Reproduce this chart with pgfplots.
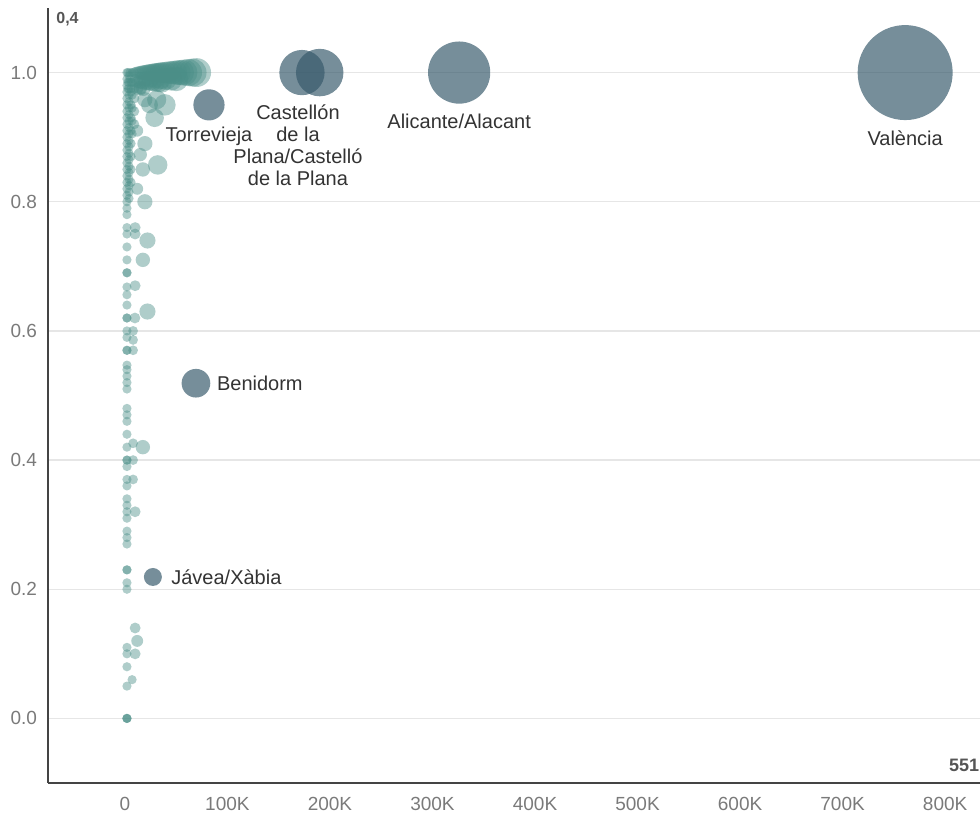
\documentclass[border=0pt]{standalone}
\usepackage{pgfplots}
\pgfplotsset{compat=1.18}
\usepackage{pgfplotstable}
\usepackage{fontspec}
\setmainfont{Liberation Sans}
\definecolor{tealc}{HTML}{4A8E87}
\definecolor{slatec}{HTML}{35586A}
\definecolor{tickc}{HTML}{7A7A7A}
\definecolor{gridc}{HTML}{E6E6E6}
\definecolor{axc}{HTML}{444444}
\definecolor{labc}{HTML}{333333}
\definecolor{annc}{HTML}{555555}

\pgfplotstableread{
x y
3 1.0
5 1.0
7 1.0
9 1.0
11 1.0
13 1.0
15 1.0
17 1.0
19 1.0
21 1.0
23 1.0
25 1.0
27 1.0
29 1.0
31 1.0
33 1.0
35 1.0
37 1.0
40 1.0
43 1.0
46 1.0
49 1.0
52 1.0
55 1.0
58 1.0
62 1.0
66 1.0
70 1.0
5 0.99
10 0.99
15 0.99
20 0.99
25 0.99
30 0.99
35 0.99
40 0.99
45 0.99
50 0.99
3 0.985
6 0.985
9 0.985
12 0.985
15 0.985
18 0.985
21 0.985
24 0.985
27 0.985
30 0.985
33 0.985
36 0.985
3 0.975
6 0.975
9 0.975
12 0.975
15 0.975
18 0.975
2 1.00
2 0.99
2 0.98
2 0.97
2 0.96
2 0.95
2 0.94
2 0.93
2 0.92
2 0.91
2 0.90
2 0.89
2 0.88
2 0.87
2 0.86
2 0.85
2 0.84
2 0.83
2 0.82
2 0.81
2 0.80
4 0.995
4 0.985
4 0.975
4 0.965
4 0.955
4 0.945
4 0.935
4 0.925
4 0.915
4 0.905
4 0.895
4 0.885
4 0.875
4 0.865
4 0.855
4 0.845
4 0.835
4 0.825
4 0.815
4 0.805
6 0.97
6 0.95
6 0.93
6 0.91
6 0.89
6 0.87
6 0.85
6 0.83
7 0.985
7 0.965
7 0.945
7 0.925
7 0.905
9 0.96
9 0.94
9 0.92
15 0.977
19.5 0.958
31 0.958
39 0.95
24 0.95
29 0.93
12 0.91
19.5 0.89
15 0.873
32 0.857
17.5 0.85
12 0.82
19.5 0.80
10 0.76
10 0.75
22 0.74
17.5 0.71
10 0.67
22 0.63
9.8 0.62
8 0.60
8 0.586
8 0.57
8 0.426
17.5 0.42
8 0.40
8 0.37
10 0.32
10 0.14
12 0.12
10 0.10
7 0.06
2 0.79
2 0.78
2 0.76
2 0.75
2 0.73
2 0.71
2 0.69
2 0.69
2 0.668
2 0.656
2 0.64
2 0.62
2 0.62
2 0.60
2 0.59
2 0.57
2 0.57
2 0.547
2 0.54
2 0.53
2 0.52
2 0.51
2 0.48
2 0.47
2 0.46
2 0.44
2 0.42
2 0.40
2 0.40
2 0.39
2 0.37
2 0.36
2 0.34
2 0.33
2 0.32
2 0.31
2 0.29
2 0.28
2 0.27
2 0.23
2 0.23
2 0.21
2 0.20
2 0.11
2 0.10
2 0.08
2 0.05
2 0.0
2 0.0
2 0.0
}\tealdata

\pgfplotstableread{
x y
761 1.0
326 1.0
172.7 1.0
190 1.0
82 0.95
69.3 0.519
27.3 0.219
}\slatedata

\begin{document}
\begin{tikzpicture}
\useasboundingbox (0,0) rectangle (490pt,409pt);
\begin{axis}[at={(24pt,17.5pt)}, anchor=south west, scale only axis,
  width=466pt, height=387.5pt,
  xmin=-75, xmax=834, ymin=-0.1, ymax=1.1,
  axis lines=left, axis line style={-, draw=axc, line width=0.8pt},
  ymajorgrids, grid style={draw=gridc, line width=0.6pt},
  major tick length=0pt,
  xtick={0,100,200,300,400,500,600,700,800},
  xticklabels={0,100K,200K,300K,400K,500K,600K,700K,800K},
  ytick={0,0.2,0.4,0.6,0.8,1.0},
  yticklabels={0.0,0.2,0.4,0.6,0.8,1.0},
  tick label style={font=\fontsize{9.5}{11}\selectfont, text=tickc},
  xticklabel style={yshift=-3.4pt}, yticklabel style={xshift=-2pt},
  clip=false]
\addplot[scatter, only marks, mark=*,
  visualization depends on={max(2.3,23.75*sqrt(\thisrow{x}/761)) \as \msz},
  scatter/@pre marker code/.code={\scope[mark size=\msz pt, fill=tealc, draw=tealc, fill opacity=0.44, draw opacity=0, line width=0pt]},
  scatter/@post marker code/.code={\endscope}]
  table[x=x, y=y] {\tealdata};
\addplot[scatter, only marks, mark=*,
  visualization depends on={max(2.3,23.75*sqrt(\thisrow{x}/761)) \as \msz},
  scatter/@pre marker code/.code={\scope[mark size=\msz pt, fill=slatec, draw=slatec, fill opacity=0.68, draw opacity=0, line width=0pt]},
  scatter/@post marker code/.code={\endscope}]
  table[x=x, y=y] {\slatedata};
\begin{scope}[every node/.style={font=\fontsize{10}{11}\selectfont, text=labc}]
\node at (axis cs:82,0.901) {Torrevieja};
\node[align=center] at (axis cs:168.8,0.887) {Castellón\\de la\\Plana/Castelló\\de la Plana};
\node at (axis cs:326,0.924) {Alicante/Alacant};
\node at (axis cs:761,0.899) {València};
\node[anchor=west] at (axis cs:83,0.519) {Benidorm};
\node[anchor=west] at (axis cs:38.4,0.219) {Jávea/Xàbia};
\end{scope}
\node[anchor=west, font=\bfseries\fontsize{8}{9}\selectfont, text=annc] at (axis cs:-73.7,1.082) {0,4};
\node[anchor=east, font=\bfseries\fontsize{9}{10}\selectfont, text=annc] at (axis cs:840,-0.073) {551};
\end{axis}
\end{tikzpicture}
\end{document}
